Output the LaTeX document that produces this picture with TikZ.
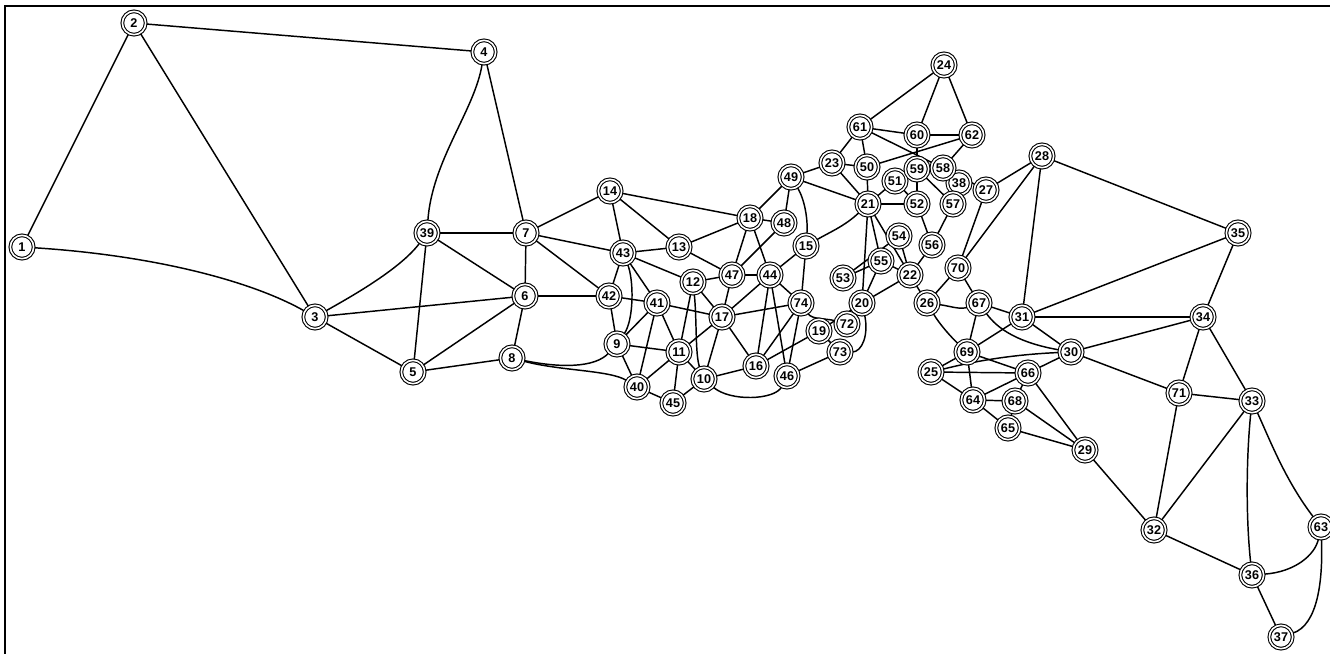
\documentclass[tikz,border=0pt]{standalone}
\usepackage{fontspec}
\setmainfont{Liberation Sans}
\usetikzlibrary{backgrounds}
\begin{document}
\begin{tikzpicture}[x=0.75pt,y=-0.75pt,
 vtx/.style={circle,draw,line width=0.8pt,double=white,double distance=1.2pt,fill=white,minimum size=17.5pt,inner sep=0pt,font=\bfseries\fontsize{9.5}{9.5}\selectfont},
 edge/.style={line width=1.1pt}]
\useasboundingbox (0,0) rectangle (1330,653);
\draw[line width=1.3pt] (5,660) -- (5,6) -- (1335,6);
\foreach \n/\x/\y in {1/22/247,2/134/23,3/315/317,4/484/52,5/413/372,6/525/296,7/526/233,8/512/358,9/617/344,10/704/379,
11/679/352,12/693/282,13/679/247,14/610/191,15/806/246,16/756/366,17/722/317,18/750/218,19/819/331,20/862/303,
21/868/204,22/910/275,23/832/163,24/944/65,25/931/372,26/927/303,27/986/190,28/1042/156,29/1085/450,30/1071/352,
31/1022/317,32/1154/530,33/1252/401,34/1203/317,35/1238/233,36/1252/575,37/1281/637,38/959/183,39/427/233,40/637/387,
41/657/303,42/609/296,43/623/253,44/770/275,45/673/403,46/787/376,47/732/275,48/784/223,49/791/177,50/867/167,
51/895/181,52/917/204,53/843/278,54/899/236,55/881/261,56/932/245,57/953/204,58/943/168,59/917/169,60/917/135,
61/860/127,62/972/135,63/1321/527,64/973/400,65/1008/428,66/1028/373,67/979/303,68/1015/401,69/967/352,70/958/268,
71/1179/393,72/847/324,73/840/352,74/801/303}
  \node[vtx] (n\n) at (\x,\y) {\n};
\begin{pgfonlayer}{background}
\foreach \a/\b in {1/2,2/3,2/4,4/7,39/7,39/5,39/6,7/6,3/6,3/5,5/6,6/8,5/8,7/14,7/43,7/42,6/42,
14/43,14/13,14/18,43/13,43/42,43/41,43/12,42/41,42/9,41/17,41/9,41/40,41/11,9/11,9/40,40/11,40/45,
11/12,11/17,11/45,11/10,12/47,12/17,10/17,10/16,10/45,13/18,13/47,17/16,17/47,17/44,17/74,
18/49,18/47,18/44,18/48,48/49,48/47,47/44,44/15,44/74,44/16,44/46,15/74,74/16,74/46,16/19,46/73,
19/20,19/73,49/21,49/23,
21/23,21/50,21/51,21/52,21/20,21/55,21/22,23/61,23/50,61/24,61/60,61/50,61/58,60/24,62/24,60/62,
60/59,62/50,62/58,51/52,59/52,59/57,58/57,38/57,58/27,52/56,57/56,56/22,54/22,55/22,53/54,53/55,
55/20,22/20,22/26,
26/70,70/28,70/27,27/28,70/67,67/69,67/31,28/31,28/35,31/35,31/34,31/30,31/69,69/25,69/64,
69/66,25/66,25/64,64/65,64/68,64/66,66/30,66/68,66/29,68/65,68/29,65/29,29/32,30/34,30/71,34/35,
34/71,34/33,71/33,71/32,33/32,32/36,36/37}
  \draw[edge] (n\a) -- (n\b);
\draw[edge] (n1) .. controls (150,255) and (250,280) .. (n3);
\draw[edge] (n4) .. controls (475,110) and (432,160) .. (n39);
\draw[edge] (n3) .. controls (345,300) and (400,270) .. (n39);
\draw[edge] (n8) .. controls (560,368) and (595,368) .. (n9);
\draw[edge] (n8) .. controls (560,371) and (610,370) .. (n40);
\draw[edge] (n43) .. controls (634,280) and (634,320) .. (n9);
\draw[edge] (n12) .. controls (697,320) and (695,355) .. (n10);
\draw[edge] (n10) .. controls (730,402) and (775,400) .. (n46);
\draw[edge] (n15) .. controls (830,232) and (845,226) .. (n21);
\draw[edge] (n49) .. controls (805,200) and (808,220) .. (n15);
\draw[edge] (n74) .. controls (812,320) and (825,318) .. (n72);
\draw[edge] (n20) .. controls (869,335) and (862,352) .. (n73);
\draw[edge] (n26) .. controls (940,325) and (952,338) .. (n69);
\draw[edge] (n26) .. controls (950,306) and (960,310) .. (n67);
\draw[edge] (n67) .. controls (998,330) and (1020,343) .. (n30);
\draw[edge] (n25) .. controls (960,365) and (1000,355) .. (n30);
\draw[edge] (n33) .. controls (1246,460) and (1246,520) .. (n36);
\draw[edge] (n33) .. controls (1270,440) and (1285,480) .. (n63);
\draw[edge] (n36) .. controls (1295,572) and (1315,555) .. (n63);
\draw[edge] (n37) .. controls (1318,625) and (1323,580) .. (n63);
\end{pgfonlayer}
\end{tikzpicture}
\end{document}
